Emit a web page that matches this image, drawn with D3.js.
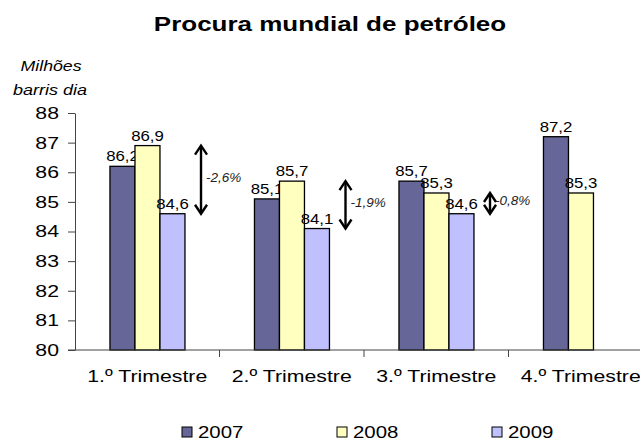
<!DOCTYPE html>
<html>
<head>
<meta charset="utf-8">
<script src="https://cdn.jsdelivr.net/npm/d3@7"></script>
<style>
  body { margin: 0; background: #fff; }
  svg { font-family: "Liberation Sans", Arial, sans-serif; display: block; }
</style>
</head>
<body>
<div id="chart"></div>
<script>
(function (d3) {

    var categories = ['1.º Trimestre', '2.º Trimestre', '3.º Trimestre', '4.º Trimestre'];
    var series = ['2007', '2008', '2009'];
    var values2007 = [86.2, 85.1, 85.7, 87.2];
    var values2008 = [86.9, 85.7, 85.3, 85.3];
    var values2009 = [84.6, 84.1, 84.6, null];
    var valueLabels2007 = ['86,2', '85,1', '85,7', '87,2'];
    var valueLabels2008 = ['86,9', '85,7', '85,3', '85,3'];
    var valueLabels2009 = ['84,6', '84,1', '84,6', null];
    var yTicks = [80, 81, 82, 83, 84, 85, 86, 87, 88];

    // variation arrows (2008 -> 2009)
    var arrowCats = ['1.º Trimestre', '2.º Trimestre', '3.º Trimestre'];
    var arrowTop = [86.9, 85.7, 85.3];
    var arrowBottom = [84.6, 84.1, 84.6];
    var arrowLabels = ['-2,6%', '-1,9%', '-0,8%'];

    var colors = ['#666699', '#ffffc0', '#c0c0ff'];

    var width = 640,
        height = 441;

    // the original picture is stretched sideways, so the text is too
    var SX = 1.25;

    var allValues = [values2007, values2008, values2009];
    var allLabels = [valueLabels2007, valueLabels2008, valueLabels2009];

    var svg = d3.select('#chart')
        .append('svg')
        .attr('width', width)
        .attr('height', height);

    function addText(parent, x, y, str, size, sx) {
        return parent.append('text')
            .attr('transform', 'translate(' + x + ',' + y + ') scale(' + sx + ',1)')
            .attr('font-size', size)
            .text(str);
    }

    var x0 = d3.scaleBand().domain(categories).range([75, 653]);
    var step = x0.step();
    var x1 = d3.scaleBand().domain(series).range([step * 0.242, step * 0.761]);
    var y = d3.scaleLinear().domain([80, 88]).range([350, 113]);

    addText(svg, 330, 31, 'Procura mundial de petróleo', 20, 1.3)
        .attr('text-anchor', 'middle')
        .attr('font-weight', 'bold');

    addText(svg, 51, 71, 'Milhões', 15, 1.18)
        .attr('text-anchor', 'middle')
        .attr('font-style', 'italic');

    addText(svg, 50, 95, 'barris dia', 15, 1.2)
        .attr('text-anchor', 'middle')
        .attr('font-style', 'italic');

    var bars = svg.append('g');
    series.forEach(function (s, si) {
        categories.forEach(function (c, ci) {
            var v = allValues[si][ci];
            if (v === null) return;
            var bx = x0(c) + x1(s);
            bars.append('rect')
                .attr('x', bx)
                .attr('y', y(v))
                .attr('width', x1.bandwidth())
                .attr('height', y(80) - y(v))
                .attr('fill', colors[si])
                .attr('stroke', '#000')
                .attr('stroke-width', 1.3);
            addText(bars, bx + x1.bandwidth() / 2, y(v) - 5, allLabels[si][ci], 15, 1.12)
                .attr('text-anchor', 'middle');
        });
    });

    var yAxis = d3.axisLeft(y)
        .tickValues(yTicks)
        .tickSizeInner(7)
        .tickSizeOuter(0)
        .tickPadding(9)
        .tickFormat(d3.format('d'));

    var gy = svg.append('g')
        .attr('transform', 'translate(75,0)')
        .call(yAxis);
    gy.attr('font-family', null);
    gy.select('.domain').attr('stroke', '#444');
    gy.selectAll('line').attr('stroke', '#444');
    gy.selectAll('text')
        .attr('font-size', 17)
        .attr('fill', '#000')
        .attr('x', -16 / SX)
        .attr('transform', 'scale(' + SX + ',1)');

    var xAxis = d3.axisBottom(x0)
        .tickSize(0)
        .tickPadding(27);

    var gx = svg.append('g')
        .attr('transform', 'translate(0,350)')
        .call(xAxis);
    gx.attr('font-family', null);
    gx.select('.domain').remove();
    gx.selectAll('text')
        .attr('font-size', 17)
        .attr('fill', '#000')
        .attr('dy', '0.3em')
        .attr('transform', 'scale(' + SX + ',1)');

    gx.append('line')
        .attr('x1', 68).attr('x2', width)
        .attr('y1', 0).attr('y2', 0)
        .attr('stroke', '#444');

    categories.slice(1).forEach(function (c) {
        gx.append('line')
            .attr('x1', x0(c)).attr('x2', x0(c))
            .attr('y1', 0).attr('y2', 7)
            .attr('stroke', '#444');
    });

    // double-headed arrows
    var arrows = svg.append('g');
    arrowCats.forEach(function (c, i) {
        var ax = x0(c) + step * 0.872;
        var yt = y(arrowTop[i]),
            yb = y(arrowBottom[i]);
        arrows.append('line')
            .attr('x1', ax).attr('x2', ax)
            .attr('y1', yt + 1).attr('y2', yb - 1)
            .attr('stroke', '#000')
            .attr('stroke-width', 2.4);
        arrows.append('path')
            .attr('d', 'M' + (ax - 6) + ',' + (yt + 9) + 'L' + ax + ',' + yt + 'L' + (ax + 6) + ',' + (yt + 9))
            .attr('fill', 'none')
            .attr('stroke', '#000')
            .attr('stroke-width', 2.4);
        arrows.append('path')
            .attr('d', 'M' + (ax - 6) + ',' + (yb - 9) + 'L' + ax + ',' + yb + 'L' + (ax + 6) + ',' + (yb - 9))
            .attr('fill', 'none')
            .attr('stroke', '#000')
            .attr('stroke-width', 2.4);
        addText(arrows, ax + 5, (yt + yb) / 2 + 2, arrowLabels[i], 13.5, 1.0)
            .attr('font-style', 'italic')
            .attr('fill', '#222');
    });

    // legend
    var legend = svg.append('g').attr('transform', 'translate(182,0)');
    series.forEach(function (s, i) {
        var lx = i * 155;
        legend.append('rect')
            .attr('x', lx)
            .attr('y', 427)
            .attr('width', 10)
            .attr('height', 10)
            .attr('fill', colors[i])
            .attr('stroke', '#000')
            .attr('stroke-width', 1);
        addText(legend, lx + 16, 438, s, 17, 1.2);
    });

})(d3);
</script>
</body>
</html>
